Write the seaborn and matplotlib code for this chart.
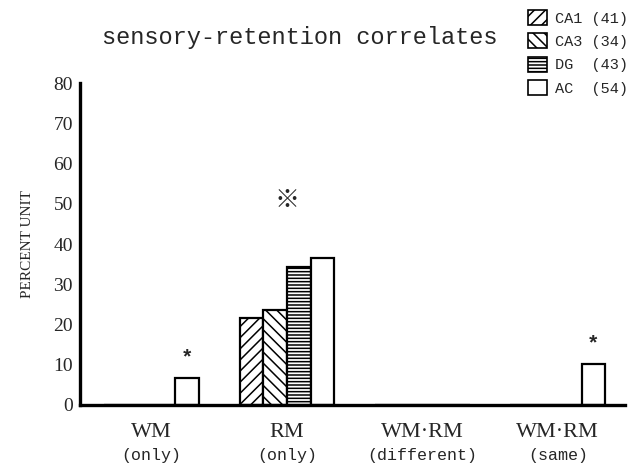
import numpy as np
import pandas as pd
import matplotlib
matplotlib.use("Agg")
import matplotlib.pyplot as plt
from matplotlib.patches import Patch
from matplotlib.transforms import blended_transform_factory
import seaborn as sns

# categories (main line / sub line) and hippocampal regions
categories = ["WM", "RM", "WM·RM", "WM·RM"]
subtitles = ["(only)", "(only)", "(different)", "(same)"]
regions = ["CA1", "CA3", "DG", "AC"]
unit_counts = [41, 34, 43, 54]

# percent of units per category, one list per region
ca1 = [0.0, 21.5, 0.0, 0.0]
ca3 = [0.0, 23.5, 0.0, 0.0]
dg = [0.0, 34.3, 0.0, 0.0]
ac = [6.7, 36.5, 0.0, 10.2]

hatches = ["///", "\\\\\\", "-----", ""]

keys = [f"{c}\n{s}" for c, s in zip(categories, subtitles)]
rows = []
for reg, vals in zip(regions, [ca1, ca3, dg, ac]):
    for k, v in zip(keys, vals):
        rows.append({"category": k, "region": reg, "value": v})
df = pd.DataFrame(rows)

sns.set_theme(style="white")
plt.rcParams["font.family"] = ["Liberation Serif", "DejaVu Sans"]
plt.rcParams["hatch.linewidth"] = 1.1

fig = plt.figure(figsize=(6.38, 4.74), dpi=100)
ax = fig.add_axes([0.1254, 0.1456, 0.855, 0.679])

sns.barplot(data=df, x="category", y="value", hue="region", order=keys,
            hue_order=regions, palette=["white"] * 4, width=0.70,
            edgecolor="black", linewidth=1.6, saturation=1, ax=ax,
            legend=False)

for cont, h in zip(ax.containers, hatches):
    for bar in cont:
        bar.set_hatch(h)
        bar.set_edgecolor("black")

ax.set_ylim(0, 80)
ax.set_xlim(-0.53, 3.5)
ax.set_yticks(np.arange(0, 81, 10))
ax.tick_params(axis="y", direction="in", length=5, width=1.6, labelsize=14,
               pad=5)
ax.tick_params(axis="x", length=0, labelbottom=False)
for side in ["top", "right"]:
    ax.spines[side].set_visible(False)
for side in ["left", "bottom"]:
    ax.spines[side].set_linewidth(2.4)
    ax.spines[side].set_color("black")
ax.set_xlabel("")
ax.set_ylabel("PERCENT UNIT", fontsize=11, labelpad=14)

# two-line category labels under the axis
tr = blended_transform_factory(ax.transData, ax.transAxes)
for i, (c, s) in enumerate(zip(categories, subtitles)):
    ax.text(i, -0.055, c, transform=tr, ha="center", va="top", fontsize=16,
            family="Liberation Serif")
    ax.text(i, -0.135, s, transform=tr, ha="center", va="top", fontsize=12,
            family="Liberation Mono")

# significance marks
ac_bars = ax.containers[3]
for idx in [0, 3]:
    b = ac_bars[idx]
    ax.text(b.get_x() + b.get_width() / 2, b.get_height() + 5, "*",
            ha="center", va="center", fontsize=15, family="Liberation Mono",
            fontweight="bold")
ax.text(1, 51, "※", ha="center", va="center", fontsize=18,
        family=["Noto Sans CJK JP", "DejaVu Sans"])

fig.text(0.47, 0.92, "sensory-retention correlates", ha="center",
         va="center", fontsize=17, family="Liberation Mono")

handles = [Patch(facecolor="white", edgecolor="black", hatch=h, linewidth=1.2)
           for h in hatches]
labels = [f"{r:<3} ({n})" for r, n in zip(regions, unit_counts)]
fig.legend(handles, labels, loc="upper right", bbox_to_anchor=(1.0, 1.0),
           frameon=False, prop={"family": "Liberation Mono", "size": 11},
           handlelength=1.2, handleheight=1.15, labelspacing=0.5,
           handletextpad=0.55, borderaxespad=0.25)

fig.savefig("out.png", dpi=100)
